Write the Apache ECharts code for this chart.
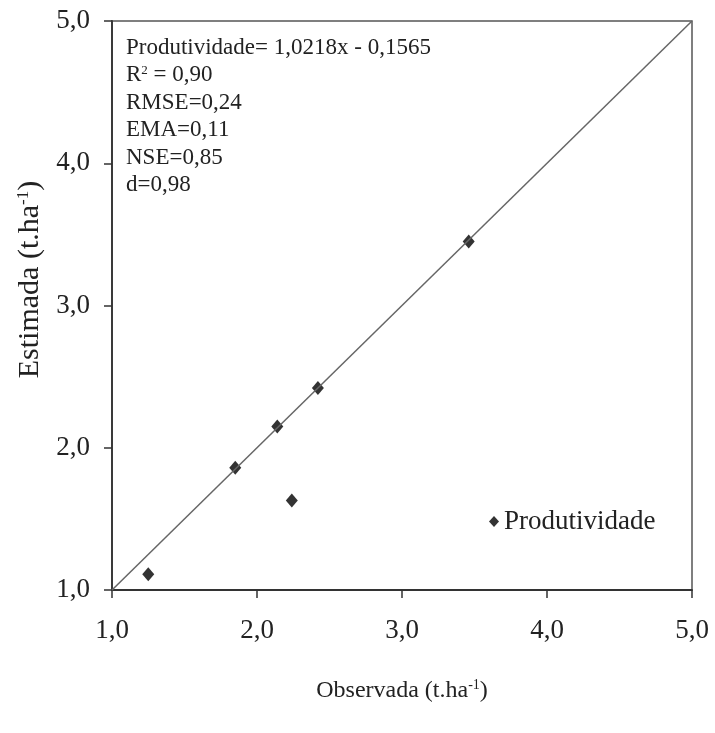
<!DOCTYPE html>
<html>
<head>
<meta charset="utf-8">
<script src="https://cdn.jsdelivr.net/npm/echarts@6/dist/echarts.min.js"></script>
<style>
html,body{margin:0;padding:0;background:#fff;}
#chart{width:715px;height:733px;}
</style>
</head>
<body>
<div id="chart"></div>
<script>
var observada = [1.25, 1.85, 2.14, 2.24, 2.42, 3.46];
var estimada  = [1.11, 1.86, 2.15, 1.63, 2.42, 3.45];
var lineX = [1, 5];
var lineY = [1, 5];
var ticks = [1, 2, 3, 4, 5];
var seriesName = 'Produtividade';
var statsLines = [
  'Produtividade= 1,0218x - 0,1565',
  '{n|R}{s|2}{n| = 0,90}',
  'RMSE=0,24',
  'EMA=0,11',
  'NSE=0,85',
  'd=0,98'
];

var font = '"Liberation Serif", "Times New Roman", serif';
var chart = echarts.init(document.getElementById('chart'));
function fmt(v){ return v.toFixed(1).replace('.', ','); }

var pts = observada.map(function(x, i){ return [x, estimada[i]]; });
var line = lineX.map(function(x, i){ return [x, lineY[i]]; });

chart.setOption({
  backgroundColor: '#fff',
  animation: false,
  grid: { left: 112, top: 21, right: 23, bottom: 143, show: true, borderColor: '#555', borderWidth: 1.5, backgroundColor: 'transparent' },
  xAxis: {
    type: 'value', min: ticks[0], max: ticks[ticks.length-1], interval: 1,
    axisLine: { onZero: false, lineStyle: { color: '#333', width: 1.8 } },
    axisTick: { show: true, length: 8, lineStyle: { color: '#333', width: 1.5 } },
    splitLine: { show: false },
    axisLabel: { formatter: fmt, fontFamily: font, fontSize: 27, color: '#222', margin: 27 },
    name: '{a|Observada (t.ha}{s|-1}{a|)}', nameLocation: 'middle', nameGap: 88,
    nameTextStyle: { rich: { a: { fontFamily: font, fontSize: 24, color: '#222' }, s: { fontFamily: font, fontSize: 14, color: '#222', padding: [0,0,11,0] } } }
  },
  yAxis: {
    type: 'value', min: ticks[0], max: ticks[ticks.length-1], interval: 1,
    axisLine: { onZero: false, lineStyle: { color: '#333', width: 1.8 } },
    axisTick: { show: true, length: 8, lineStyle: { color: '#333', width: 1.5 } },
    splitLine: { show: false },
    axisLabel: { formatter: fmt, fontFamily: font, fontSize: 27, color: '#222', margin: 22 },
    name: '{a|Estimada (t.ha}{s|-1}{a|)}', nameLocation: 'middle', nameGap: 66, nameRotate: 90,
    nameTextStyle: { padding: [0,0,0,52], rich: { a: { fontFamily: font, fontSize: 30, color: '#222' }, s: { fontFamily: font, fontSize: 17, color: '#222', padding: [0,0,14,0] } } }
  },
  legend: {
    data: [seriesName], left: 484, top: 503, itemWidth: 10, itemHeight: 11, itemGap: 4,
    textStyle: { fontFamily: font, fontSize: 27, color: '#222' }
  },
  graphic: [{
    type: 'text', left: 126, top: 34,
    style: {
      text: statsLines.join('\n'), fontFamily: font, fontSize: 23, fill: '#222', lineHeight: 27.5,
      rich: { n: { fontFamily: font, fontSize: 23, fill: '#222', lineHeight: 27.5 }, s: { fontFamily: font, fontSize: 13, fill: '#222', padding: [0,0,9,0], lineHeight: 27.5 } }
    }
  }],
  series: [
    { type: 'line', data: line, symbol: 'none', silent: true, lineStyle: { color: '#666', width: 1.5 }, legendHoverLink: false },
    { name: seriesName, type: 'scatter', data: pts, symbol: 'diamond', symbolSize: [12, 14], itemStyle: { color: '#000' } }
  ]
});
</script>
</body>
</html>
